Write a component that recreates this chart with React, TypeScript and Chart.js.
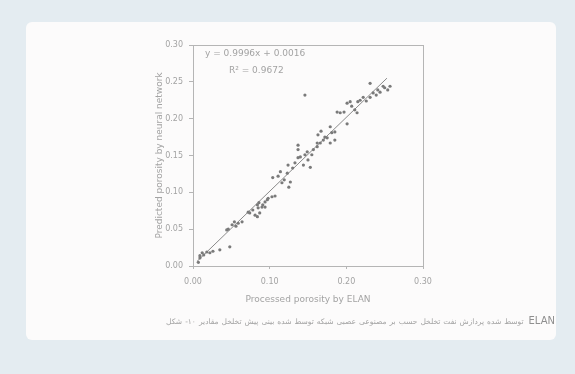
import React, { useEffect, useRef } from "react";
import { Chart, registerables } from "chart.js";

Chart.register(...registerables);

// Processed porosity by ELAN (x) vs predicted porosity by neural network (y)
const processedPorosity: number[] = [
  0.007, 0.009, 0.009, 0.012, 0.014, 0.018, 0.022, 0.026, 0.035, 0.048,
  0.044, 0.046, 0.051, 0.054, 0.056, 0.059, 0.064, 0.072, 0.074, 0.078,
  0.081, 0.084, 0.085, 0.086, 0.084, 0.087, 0.090, 0.091, 0.094, 0.097,
  0.098, 0.094, 0.103, 0.107, 0.104, 0.114, 0.111, 0.116, 0.119, 0.123,
  0.125, 0.127, 0.124, 0.130, 0.133, 0.137, 0.137, 0.137, 0.140, 0.144,
  0.146, 0.149, 0.150, 0.153, 0.155, 0.157, 0.162, 0.162, 0.163, 0.166,
  0.167, 0.170, 0.172, 0.175, 0.179, 0.179, 0.181, 0.185, 0.185, 0.188,
  0.192, 0.197, 0.201, 0.201, 0.205, 0.207, 0.211, 0.214, 0.215, 0.218,
  0.222, 0.226, 0.231, 0.231, 0.235, 0.239, 0.241, 0.244, 0.248, 0.250,
  0.254, 0.257, 0.146,
];
const predictedPorosity: number[] = [
  0.005, 0.011, 0.014, 0.018, 0.015, 0.019, 0.018, 0.020, 0.022, 0.026,
  0.049, 0.050, 0.056, 0.060, 0.054, 0.058, 0.060, 0.073, 0.072, 0.076,
  0.069, 0.083, 0.079, 0.086, 0.067, 0.072, 0.080, 0.083, 0.087, 0.090,
  0.092, 0.080, 0.094, 0.095, 0.120, 0.128, 0.122, 0.113, 0.117, 0.126,
  0.107, 0.114, 0.137, 0.133, 0.140, 0.147, 0.158, 0.164, 0.148, 0.137,
  0.151, 0.155, 0.144, 0.134, 0.151, 0.158, 0.162, 0.167, 0.178, 0.167,
  0.183, 0.171, 0.175, 0.174, 0.167, 0.189, 0.181, 0.182, 0.171, 0.209,
  0.208, 0.209, 0.193, 0.221, 0.223, 0.217, 0.212, 0.208, 0.223, 0.225,
  0.229, 0.224, 0.248, 0.229, 0.235, 0.232, 0.239, 0.236, 0.244, 0.242,
  0.239, 0.244, 0.232,
];
// Linear trend line end points
const trendX: number[] = [0.005, 0.253];
const trendY: number[] = [0.006, 0.255];

const yTicks: number[] = [0, 0.05, 0.1, 0.15, 0.2, 0.25, 0.3];
const xTicks: number[] = [0, 0.1, 0.2, 0.3];

const equationText = "y = 0.9996x + 0.0016";
const r2Text = "R² = 0.9672";
const xTitle = "Processed porosity by ELAN";
const yTitle = "Predicted porosity by neural network";
const captionWords: string[] = [
  "شکل", "۱۰-", "مقادیر", "تخلخل", "پیش", "بینی", "شده", "توسط", "شبکه", "عصبی",
  "مصنوعی", "بر", "حسب", "تخلخل", "نفت", "پردازش", "شده", "توسط",
];
const captionTail = "ELAN";

const GRAY = "#a3a3a3";

const boxPlugin = {
  id: "boxPlugin",
  afterDraw(chart: any) {
    const { ctx, chartArea } = chart;
    ctx.save();
    ctx.strokeStyle = "#b5b5b5";
    ctx.lineWidth = 1;
    ctx.strokeRect(
      Math.round(chartArea.left) + 0.5,
      Math.round(chartArea.top) + 0.5,
      Math.round(chartArea.right - chartArea.left),
      Math.round(chartArea.bottom - chartArea.top)
    );
    ctx.restore();
  },
};

export default function App() {
  const ref = useRef<HTMLCanvasElement | null>(null);

  useEffect(() => {
    if (!ref.current) return;
    const points = processedPorosity.map((x, i) => ({ x, y: predictedPorosity[i] }));
    const trend = trendX.map((x, i) => ({ x, y: trendY[i] }));
    const chart = new Chart(ref.current, {
      type: "scatter",
      data: {
        datasets: [
          {
            type: "line",
            data: trend,
            borderColor: "#8a8a8a",
            borderWidth: 1,
            pointRadius: 0,
            fill: false,
            order: 2,
          } as any,
          {
            data: points,
            backgroundColor: "#7a7a7a",
            borderColor: "#7a7a7a",
            pointRadius: 1.6,
            borderWidth: 0,
            order: 1,
          },
        ],
      },
      options: {
        responsive: false,
        animation: false,
        layout: { padding: { left: 150, top: 45, right: 152, bottom: 66 } },
        plugins: { legend: { display: false }, tooltip: { enabled: false } },
        scales: {
          x: {
            type: "linear",
            min: 0,
            max: 0.3,
            afterBuildTicks: (s: any) => {
              s.ticks = xTicks.map((v) => ({ value: v }));
            },
            afterFit: (s: any) => {
              s.height = 42;
            },
            grid: { display: true, drawOnChartArea: false, drawTicks: true, tickLength: 3, color: "#b5b5b5" },
            border: { display: true, color: "#b5b5b5" },
            ticks: {
              color: GRAY,
              padding: 8,
              maxRotation: 0,
              font: { family: "DejaVu Sans", size: 8 },
              callback: (v: any) => Number(v).toFixed(2),
            },
            title: {
              display: true,
              text: xTitle,
              color: GRAY,
              padding: { top: 0, bottom: 3 },
              font: { family: "DejaVu Sans", size: 9 },
            },
          },
          y: {
            type: "linear",
            min: 0,
            max: 0.3,
            afterBuildTicks: (s: any) => {
              s.ticks = yTicks.map((v) => ({ value: v }));
            },
            afterFit: (s: any) => {
              s.width = 43;
            },
            grid: { display: true, drawOnChartArea: false, drawTicks: true, tickLength: 4, color: "#b5b5b5" },
            border: { display: true, color: "#b5b5b5" },
            ticks: {
              color: GRAY,
              padding: 6,
              font: { family: "DejaVu Sans", size: 8 },
              callback: (v: any) => Number(v).toFixed(2),
            },
            title: {
              display: true,
              text: yTitle,
              color: GRAY,
              padding: { top: 4, bottom: 0 },
              font: { family: "DejaVu Sans", size: 9 },
            },
          },
        },
      },
      plugins: [boxPlugin],
    });
    return () => chart.destroy();
  }, []);

  return (
    <div
      style={{
        position: "fixed",
        left: 0,
        top: 0,
        width: 575,
        height: 374,
        background: "#e4ecf1",
        overflow: "hidden",
      }}
    >
      <div
        style={{
          position: "absolute",
          left: 26,
          top: 22,
          width: 530,
          height: 318,
          background: "#fcfbfb",
          borderRadius: 6,
        }}
      />
      <canvas ref={ref} width={575} height={374} style={{ position: "absolute", left: 0, top: 0 }} />
      <div
        style={{
          position: "absolute",
          left: 205,
          top: 48,
          fontFamily: "DejaVu Sans",
          fontSize: 9,
          color: GRAY,
          whiteSpace: "nowrap",
        }}
      >
        {equationText}
      </div>
      <div
        style={{
          position: "absolute",
          left: 229,
          top: 65,
          fontFamily: "DejaVu Sans",
          fontSize: 9,
          color: GRAY,
          whiteSpace: "nowrap",
        }}
      >
        {r2Text}
      </div>
      <div
        style={{
          position: "absolute",
          right: 20,
          top: 315,
          fontFamily: "DejaVu Sans",
          color: GRAY,
          whiteSpace: "nowrap",
          direction: "ltr",
          display: "flex",
          alignItems: "baseline",
          gap: 3,
        }}
      >
        {captionWords.map((w, i) => (
          <span key={i} dir="rtl" style={{ fontSize: 7.5, display: "inline-block" }}>
            {w}
          </span>
        ))}
        <span style={{ fontSize: 10, color: "#8f8f8f", marginLeft: 2 }}>{captionTail}</span>
      </div>
    </div>
  );
}
